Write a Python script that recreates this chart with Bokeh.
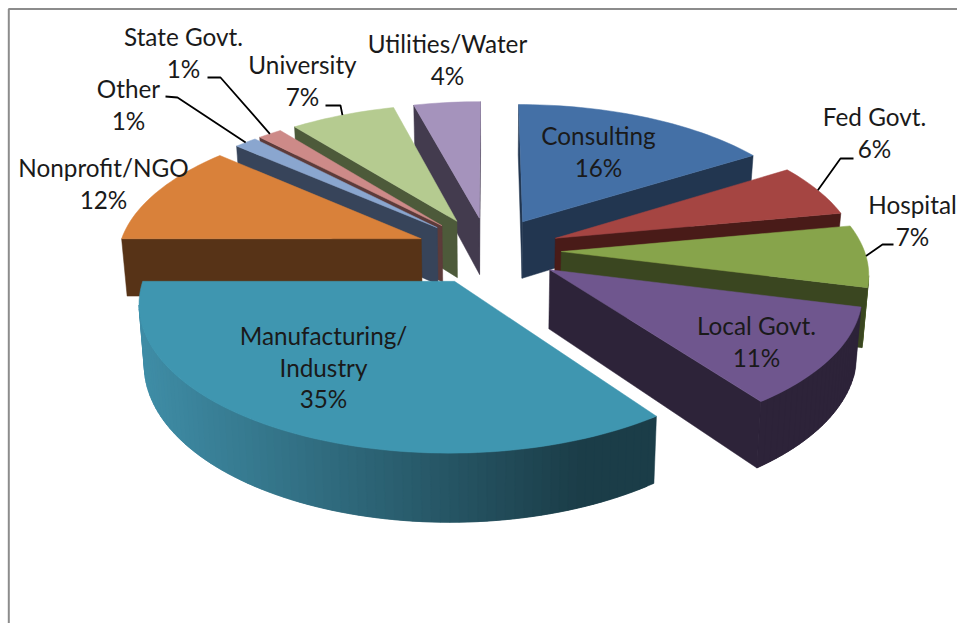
import math
from bokeh.plotting import figure
from bokeh.models import Range1d, ColumnDataSource
from bokeh.core.properties import value
from bokeh.embed import file_html
from bokeh.resources import INLINE

# ---- data (clockwise from 12 o'clock) ----
categories = ["Consulting", "Fed Govt.", "Hospital", "Local Govt.", "Manufacturing/\nIndustry",
              "Nonprofit/NGO", "Other", "State Govt.", "University", "Utilities/Water"]
percent_labels = ["16%", "6%", "7%", "11%", "35%", "12%", "1%", "1%", "7%", "4%"]
# slice sizes estimated from the drawn angles (the printed labels are rounded)
shares = [16, 6, 7, 11, 35, 11.5, 1.4, 1.49, 6.5, 4.11]

# ---- styles ----
top_colors = ["#4470A6", "#A54542", "#87A44B", "#6F568E", "#3F96B0",
              "#D9813A", "#8AA6CF", "#CD8A88", "#B5CB90", "#A593BC"]
wall_colors = ["#223650", "#491B18", "#3A4620", "#2D2339", "#1B3D48",
               "#573317", "#37445A", "#5D3B3A", "#4D5A3A", "#433B4E"]
arc_left = ["#223650", "#491B18", "#4F6029", "#2D2339", "#3F8DA6",
            "#6B3F1C", "#37445A", "#5D3B3A", "#4D5A3A", "#433B4E"]
arc_right = ["#223650", "#491B18", "#4F6029", "#2D2339", "#1B3D48",
             "#573317", "#37445A", "#5D3B3A", "#4D5A3A", "#433B4E"]
draw_order = [9, 8, 7, 6, 5, 0, 1, 2, 3, 4]

# label placement: centre x, first-line centre y
label_pos = [(598, 135), (874, 116), (912, 204), (756, 325), (323, 335),
             (103, 167), (128, 88), (183, 36), (302, 64), (447, 43)]
LINE_H = 31.5
FONT_PX = 24.3
# leader lines: elbow points near the label, end point is taken from the slice rim
leaders = {1: [(853, 158), (840, 158)], 2: [(893, 244), (882, 244)],
           6: [(165, 96), (177, 97)], 7: [(207, 77), (220, 77)], 8: [(325, 105), (340, 105)]}

# projection of the exploded pie
CX, CY, R, RK, PERSP, EXPLODE, DEPTH, BOTTOM_SHRINK = 488, 250, 303, 140, 0.133, 0.24, 58, 0.985


def project(u, v):
    s = 1 / (1 - PERSP * v)
    return CX + R * u * s, CY + RK * v * s, s


def bottom(u, v):
    x, y, s = project(u, v)
    return CX + (x - CX) * BOTTOM_SHRINK, y + DEPTH * s


def mix(a, b, t):
    t = max(0, min(1, t))
    ca = [int(a[i:i + 2], 16) for i in (1, 3, 5)]
    cb = [int(b[i:i + 2], 16) for i in (1, 3, 5)]
    return "#%02x%02x%02x" % tuple(round(p + (q - p) * t) for p, q in zip(ca, cb))


total = sum(shares)
starts, acc = [], 0
for sh in shares:
    starts.append(acc / total * 2 * math.pi)
    acc += sh


def rim(i, th):
    mid = starts[i] + shares[i] / total * math.pi
    return math.sin(th) + EXPLODE * math.sin(mid), -math.cos(th) + EXPLODE * -math.cos(mid)


xs, ys, fills = [], [], []
rim_mid = {}
for i in draw_order:
    t0 = starts[i]
    sweep = shares[i] / total * 2 * math.pi
    n = max(2, int(math.degrees(sweep) / 1.5))
    mid = t0 + sweep / 2
    apex = (EXPLODE * math.sin(mid), EXPLODE * -math.cos(mid))
    pts = [apex] + [rim(i, t0 + sweep * k / n) for k in range(n + 1)]
    rim_mid[i] = project(*rim(i, mid))[:2]
    m = len(pts)
    screen = [project(*q) for q in pts]
    vis = [k for k in range(1, m - 1) if screen[k + 1][0] < screen[k][0]]
    xmin = min((screen[k + 1][0] for k in vis), default=0)
    xmax = max((screen[k][0] for k in vis), default=1)
    if i == 4:
        xmin, xmax = 140, 580
    for k in range(m):
        a, b = pts[k], pts[(k + 1) % m]
        ax, ay, _ = project(*a)
        bx, by, _ = project(*b)
        if bx < ax:
            if k in (0, m - 1):
                col = wall_colors[i]
            else:
                col = mix(arc_left[i], arc_right[i], ((ax + bx) / 2 - xmin) / max(1, xmax - xmin))
                # overlap the next strip so that no seam is left between them
                if k + 2 < m and screen[k + 2][0] < bx:
                    b = pts[k + 2]
                    bx, by, _ = project(*b)
            cx_, cy_ = bottom(*b)
            dx_, dy_ = bottom(*a)
            xs.append([ax, bx, cx_, dx_])
            ys.append([ay, by, cy_, dy_])
            fills.append(col)
    xs.append([q[0] for q in screen])
    ys.append([q[1] for q in screen])
    fills.append(top_colors[i])

p = figure(width=957, height=623, x_range=Range1d(0, 957), y_range=Range1d(623, 0),
           output_backend="svg", toolbar_location=None, min_border=0,
           background_fill_color="white", border_fill_color="white")
p.axis.visible = False
p.grid.visible = False
p.outline_line_color = None

# chart-area frame
p.line([8.3, 8.3, 957], [623, 8.5, 8.5], line_color="#8C8C8C", line_width=2)

src = ColumnDataSource(dict(xs=xs, ys=ys, fill=fills))
p.patches("xs", "ys", source=src, fill_color="fill", line_color="fill", line_width=0.5)

for i, pts in leaders.items():
    lx = [q[0] for q in pts] + [rim_mid[i][0]]
    ly = [q[1] for q in pts] + [rim_mid[i][1]]
    p.line(lx, ly, line_color="black", line_width=1.8)

tx, ty, tt = [], [], []
for name, pct, (lx, ly) in zip(categories, percent_labels, label_pos):
    lines = name.split("\n") + [pct]
    for j, line in enumerate(lines):
        tx.append(lx)
        ty.append(ly + j * LINE_H)
        tt.append(line)
p.text(tx, ty, text=tt, text_font=value("Lato"), text_font_size=f"{FONT_PX}px",
       text_align="center", text_baseline="middle", text_color="#1A1A1A")

open("out.html", "w").write(file_html(p, INLINE))
